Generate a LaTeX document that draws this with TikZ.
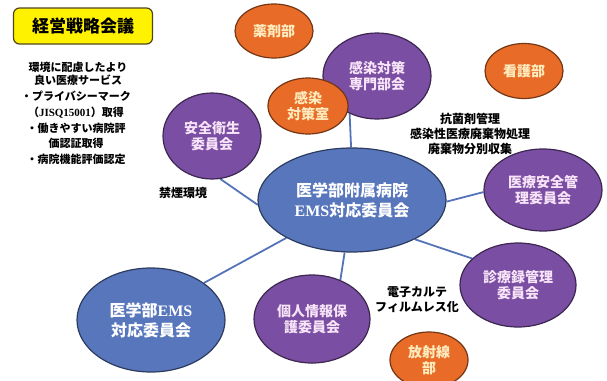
\documentclass[tikz,border=0pt]{standalone}
\usepackage{fontspec}
\setmainfont{Noto Sans CJK JP}
\newfontfamily\latinserif{Liberation Serif}
\usepackage{xcolor}
\usetikzlibrary{shapes.geometric, backgrounds}

\definecolor{hubblue}{RGB}{88,118,188}
\definecolor{commpurple}{RGB}{122,78,162}
\definecolor{deptorange}{RGB}{232,108,40}
\definecolor{commtext}{RGB}{248,228,248}
\definecolor{depttext}{RGB}{255,236,190}
\definecolor{boxline}{RGB}{80,70,30}
\definecolor{linkblue}{RGB}{85,115,185}

\begin{document}
\begin{tikzpicture}[
    x=1pt, y=-1pt,
    every node/.style={font=\bfseries},
    bubble/.style={draw=#1!50!black, ellipse, fill=#1, line width=1.2pt, inner sep=0pt, align=center},
    hub/.style={bubble=hubblue, text=white, font=\fontsize{16}{20}\selectfont\bfseries},
    comm/.style={bubble=commpurple, text=commtext, font=\fontsize{14}{16}\selectfont\bfseries},
    dept/.style={bubble=deptorange, text=depttext, font=\fontsize{14}{16}\selectfont\bfseries},
    note/.style={align=center, inner sep=0pt, font=\fontsize{12}{15}\selectfont\bfseries},
    link/.style={draw=linkblue, line width=1.8pt},
  ]
  \useasboundingbox (0,0) rectangle (607,380);

  % ---- Strategy meeting and its notes ----
  \node[draw=boxline, fill=yellow, rounded corners=6pt, line width=1.2pt, minimum width=139pt, minimum height=36pt,
        font=\fontsize{17}{20}\selectfont\bfseries] (strategy) at (83,26) {経営戦略会議};
  \node[note, font=\fontsize{11}{12.5}\selectfont\bfseries] (goal) at (78,74) {環境に配慮したより\\良い医療サービス};
  \node[note, font=\fontsize{11}{15.7}\selectfont\bfseries] (certs) at (76,128)
    {・プライバシーマーク\\（{\latinserif JISQ15001}）取得\\・働きやすい病院評\\価認証取得\\・病院機能評価認定};

  % ---- Central committees ----
  \node[hub, minimum width=188pt, minimum height=104pt] (hosp) at (352,200) {医学部附属病院\\{\latinserif EMS}対応委員会};
  \node[hub, minimum width=148pt, minimum height=104pt] (faculty) at (151,320) {医学部{\latinserif EMS}\\対応委員会};

  % ---- Committees ----
  \node[comm, minimum width=98pt, minimum height=86pt] (safety) at (212,136) {安全衛生\\委員会};
  \node[comm, minimum width=108pt, minimum height=86pt] (infection) at (377,76) {感染対策\\専門部会};
  \node[comm, minimum width=118pt, minimum height=82pt] (medsafety) at (543,190) {医療安全管\\理委員会};
  \node[comm, minimum width=116pt, minimum height=84pt] (records) at (518,285) {診療録管理\\委員会};
  \node[comm, minimum width=116pt, minimum height=88pt] (privacy) at (312,319) {個人情報保\\護委員会};

  % ---- Departments ----
  \node[dept, minimum width=78pt, minimum height=54pt] (pharmacy) at (274,31) {薬剤部};
  \node[dept, minimum width=80pt, minimum height=56pt] (infoffice) at (308,106) {感染\\対策室};
  \node[dept, minimum width=78pt, minimum height=55pt] (nursing) at (524,71) {看護部};
  \node[dept, minimum width=78pt, minimum height=56pt] (radiology) at (429,360) {放射線\\部};

  % ---- Free notes ----
  \node[note] (smoke) at (183,193) {禁煙環境};
  \node[note] (waste) at (470,134) {抗菌剤管理\\感染性医療廃棄物処理\\廃棄物分別収集};
  \node[note] (ehr) at (417,300) {電子カルテ\\フィルムレス化};

  % ---- Links ----
  \begin{scope}[on background layer]
    \draw[link] (hosp.183) -- (safety.281);
    \draw[link] (hosp.91) -- (infection.234);
    \draw[link] (hosp.359) -- (medsafety.182);
    \draw[link] (hosp.328) -- (records.150);
    \draw[link] (hosp.262) -- (privacy.54);
    \draw[link] (hosp.210) -- (faculty.35);
  \end{scope}

\end{tikzpicture}
\end{document}
